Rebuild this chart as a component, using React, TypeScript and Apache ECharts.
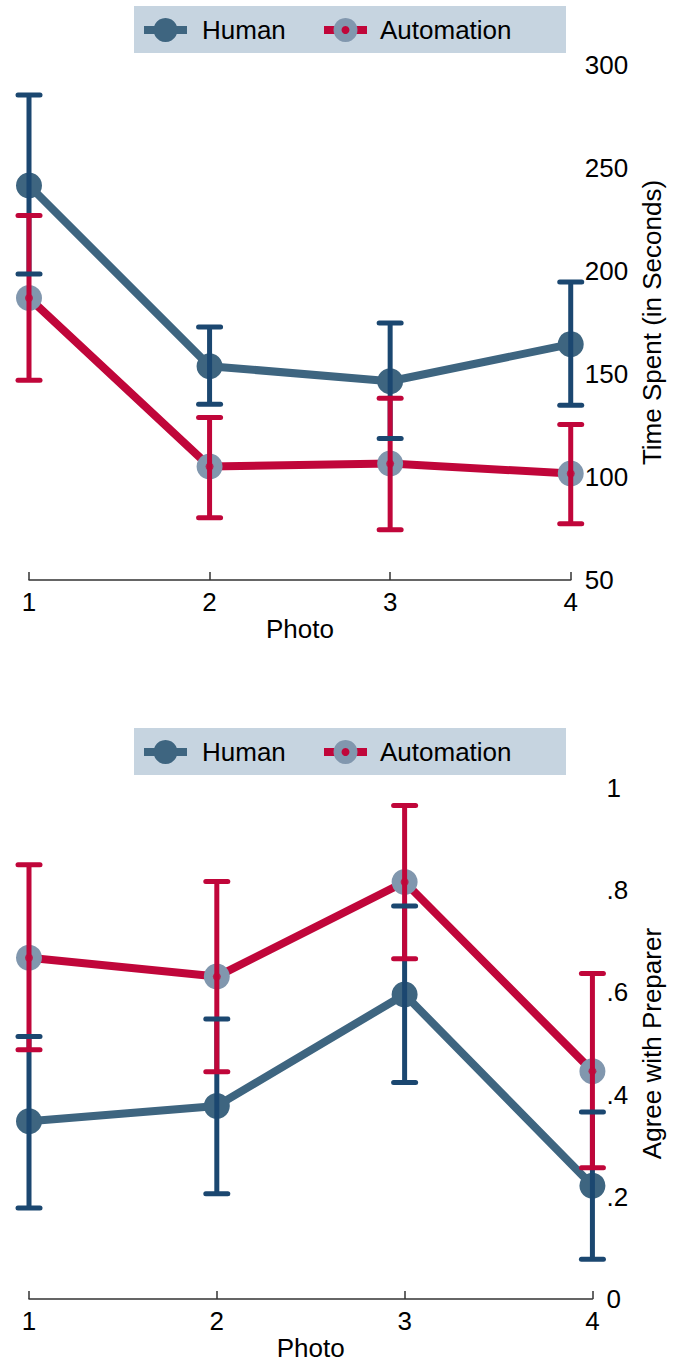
import React, { useEffect, useRef } from "react";
import * as echarts from "echarts";

// ---------- data ----------
const photos = [1, 2, 3, 4];
const photoTicks = ["1", "2", "3", "4"];

// Panel 1: Time Spent (in Seconds)
const timeHuman = [241.5, 153.8, 146.5, 164.5];
const timeHumanLow = [198.6, 135.3, 118.7, 134.8];
const timeHumanHigh = [285.4, 172.8, 174.8, 194.7];
const timeAuto = [186.9, 105.1, 106.5, 101.7];
const timeAutoLow = [147.0, 80.2, 74.4, 77.3];
const timeAutoHigh = [226.9, 128.9, 138.2, 125.5];
const timeTicks = [50, 100, 150, 200, 250, 300];

// Panel 2: Agree with Preparer
const agreeHuman = [0.348, 0.378, 0.596, 0.222];
const agreeHumanLow = [0.178, 0.206, 0.424, 0.078];
const agreeHumanHigh = [0.514, 0.548, 0.769, 0.366];
const agreeAuto = [0.668, 0.631, 0.816, 0.446];
const agreeAutoLow = [0.488, 0.445, 0.666, 0.257];
const agreeAutoHigh = [0.85, 0.817, 0.966, 0.637];
const agreeTicks = [0, 0.2, 0.4, 0.6, 0.8, 1];

const seriesNames = ["Human", "Automation"];

// ---------- styles ----------
const FONT = '"Liberation Sans", Arial, Helvetica, sans-serif';
const FS = 26;
const C_HUMAN = "#3e6580";
const C_HUMAN_CI = "#1b4770";
const C_AUTO = "#c0063a";
const C_AUTO_MARKER = "#8197ae";
const C_LEGEND_BG = "#c6d4e0";
const C_AXIS = "#333333";

function pairs(ys: number[]) {
  return photos.map((p, i) => [p, ys[i]]);
}
function ciData(lo: number[], hi: number[]) {
  return photos.map((p, i) => [p, lo[i], hi[i]]);
}

// part: "bar" draws the vertical spike, "cap" draws the two caps
function ciSeries(idx: number, lo: number[], hi: number[], color: string, part: "bar" | "cap", z: number) {
  return {
    type: "custom",
    xAxisIndex: idx,
    yAxisIndex: idx,
    clip: false,
    z,
    silent: true,
    encode: { x: 0, y: [1, 2] },
    data: ciData(lo, hi),
    renderItem: (params: any, api: any) => {
      const x = api.value(0);
      const pLo = api.coord([x, api.value(1)]);
      const pHi = api.coord([x, api.value(2)]);
      const w = 11;
      if (part === "bar") {
        return {
          type: "line",
          shape: { x1: pLo[0], y1: pLo[1], x2: pHi[0], y2: pHi[1] },
          style: { stroke: color, lineWidth: 5, lineCap: "butt" },
        };
      }
      return {
        type: "group",
        children: [
          {
            type: "line",
            shape: { x1: pHi[0] - w, y1: pHi[1], x2: pHi[0] + w, y2: pHi[1] },
            style: { stroke: color, lineWidth: 5, lineCap: "round" },
          },
          {
            type: "line",
            shape: { x1: pLo[0] - w, y1: pLo[1], x2: pLo[0] + w, y2: pLo[1] },
            style: { stroke: color, lineWidth: 5, lineCap: "round" },
          },
        ],
      };
    },
  };
}

function lineSeries(idx: number, name: string, ys: number[], lineColor: string, markerColor: string) {
  return {
    type: "line",
    name,
    xAxisIndex: idx,
    yAxisIndex: idx,
    clip: false,
    z: 2,
    data: pairs(ys),
    symbol: "circle",
    symbolSize: 26,
    showSymbol: true,
    lineStyle: { color: lineColor, width: 8 },
    itemStyle: { color: markerColor },
  };
}

function dotSeries(idx: number, ys: number[]) {
  return {
    type: "scatter",
    xAxisIndex: idx,
    yAxisIndex: idx,
    clip: false,
    z: 4,
    data: pairs(ys),
    symbol: "circle",
    symbolSize: 8,
    itemStyle: { color: C_AUTO },
    silent: true,
  };
}

function legend(top: number) {
  const cy = top + 24;
  const textStyle = (text: string, x: number) => ({
    type: "text",
    x,
    y: cy,
    style: {
      text,
      fill: "#000",
      fontSize: FS,
      fontFamily: FONT,
      verticalAlign: "middle",
      textVerticalAlign: "middle",
      align: "left",
      textAlign: "left",
    },
  });
  return [
    { type: "rect", shape: { x: 134, y: top, width: 432, height: 47 }, style: { fill: C_LEGEND_BG } },
    { type: "rect", shape: { x: 144, y: cy - 4, width: 43, height: 8 }, style: { fill: C_HUMAN } },
    { type: "circle", shape: { cx: 165.5, cy, r: 12 }, style: { fill: C_HUMAN } },
    textStyle(seriesNames[0], 202),
    { type: "rect", shape: { x: 324, y: cy - 4, width: 43, height: 8 }, style: { fill: C_AUTO } },
    { type: "circle", shape: { cx: 345.5, cy, r: 12 }, style: { fill: C_AUTO_MARKER } },
    { type: "circle", shape: { cx: 345.5, cy, r: 4 }, style: { fill: C_AUTO } },
    textStyle(seriesNames[1], 380),
  ];
}

function xAxis(idx: number) {
  return {
    type: "value",
    gridIndex: idx,
    min: 1,
    max: 4,
    interval: 1,
    name: "Photo",
    nameLocation: "middle",
    nameGap: 33,
    nameTextStyle: { fontSize: FS, fontFamily: FONT, color: "#000" },
    axisLine: { show: true, lineStyle: { color: C_AXIS, width: 1.5 } },
    axisTick: { show: true, inside: true, length: 8, lineStyle: { color: C_AXIS, width: 1.5 } },
    axisLabel: {
      fontSize: FS,
      fontFamily: FONT,
      color: "#000",
      margin: 9,
      formatter: (v: number) => photoTicks[photos.indexOf(v)] ?? "",
    },
    splitLine: { show: false },
  };
}

function yAxis(idx: number, name: string, min: number, max: number, interval: number, gap: number, fmt: (v: number) => string) {
  return {
    type: "value",
    gridIndex: idx,
    position: "right",
    min,
    max,
    interval,
    name,
    nameLocation: "middle",
    nameRotate: 90,
    nameGap: gap,
    nameTextStyle: { fontSize: FS, fontFamily: FONT, color: "#000" },
    axisLine: { show: false },
    axisTick: { show: false },
    splitLine: { show: false },
    axisLabel: { fontSize: FS, fontFamily: FONT, color: "#000", margin: 14, formatter: fmt },
  };
}

const fmtAgree = (v: number) => {
  const t = agreeTicks.find((a) => Math.abs(a - v) < 1e-9);
  if (t === undefined) return "";
  if (t === 0) return "0";
  if (t === 1) return "1";
  return t.toFixed(1).replace(/^0/, "");
};
const fmtTime = (v: number) => (timeTicks.includes(v) ? String(v) : "");

export default function App() {
  const ref = useRef<HTMLDivElement>(null);
  useEffect(() => {
    if (!ref.current) return;
    const chart = echarts.init(ref.current, undefined, { renderer: "svg" });
    chart.setOption({
      animation: false,
      backgroundColor: "#ffffff",
      grid: [
        { left: 29, width: 543, top: 65, height: 515 },
        { left: 29, width: 567, top: 788, height: 514 },
      ],
      xAxis: [xAxis(0), xAxis(1)],
      yAxis: [
        yAxis(0, "Time Spent (in Seconds)", 50, 300, 50, 68, fmtTime),
        yAxis(1, "Agree with Preparer", 0, 1, 0.2, 44, fmtAgree),
      ],
      series: [
        lineSeries(0, "Human", timeHuman, C_HUMAN, C_HUMAN),
        lineSeries(0, "Automation", timeAuto, C_AUTO, C_AUTO_MARKER),
        ciSeries(0, timeHumanLow, timeHumanHigh, C_HUMAN_CI, "bar", 3),
        ciSeries(0, timeAutoLow, timeAutoHigh, C_AUTO, "bar", 3),
        dotSeries(0, timeAuto),
        ciSeries(0, timeHumanLow, timeHumanHigh, C_HUMAN_CI, "cap", 5),
        ciSeries(0, timeAutoLow, timeAutoHigh, C_AUTO, "cap", 5),
        lineSeries(1, "Human", agreeHuman, C_HUMAN, C_HUMAN),
        lineSeries(1, "Automation", agreeAuto, C_AUTO, C_AUTO_MARKER),
        ciSeries(1, agreeHumanLow, agreeHumanHigh, C_HUMAN_CI, "bar", 3),
        ciSeries(1, agreeAutoLow, agreeAutoHigh, C_AUTO, "bar", 3),
        dotSeries(1, agreeAuto),
        ciSeries(1, agreeHumanLow, agreeHumanHigh, C_HUMAN_CI, "cap", 5),
        ciSeries(1, agreeAutoLow, agreeAutoHigh, C_AUTO, "cap", 5),
      ],
      graphic: [...legend(6), ...legend(728)],
    });
    return () => chart.dispose();
  }, []);
  return (
    <div
      ref={ref}
      style={{ position: "absolute", left: 0, top: 0, width: 673, height: 1362, background: "#fff" }}
    />
  );
}
